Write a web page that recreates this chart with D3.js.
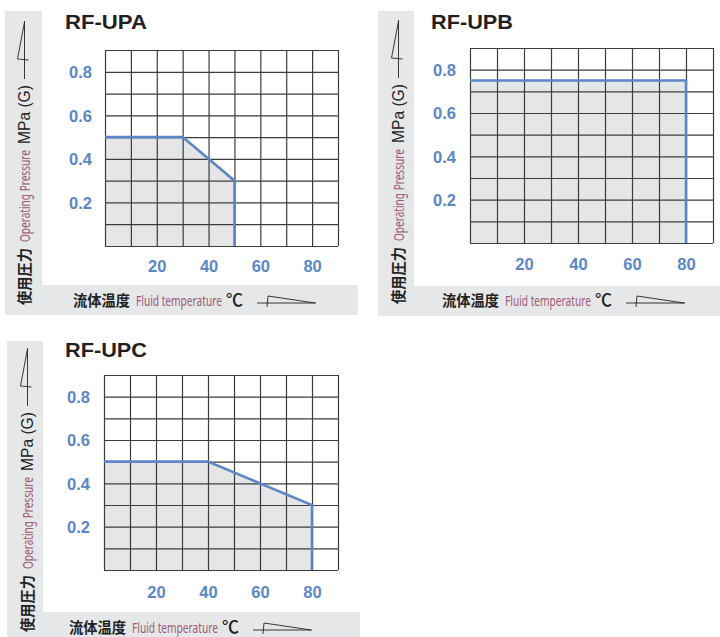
<!DOCTYPE html>
<html>
<head>
<meta charset="utf-8">
<script src="https://cdn.jsdelivr.net/npm/d3@7"></script>
<style>
  body { margin: 0; background: #fff; }
  svg { display: block; }
</style>
</head>
<body>
<svg id="chart" width="720" height="637"></svg>
<script>
// data
const titles = ['RF-UPA', 'RF-UPB', 'RF-UPC']
const upaTemp = [0, 30, 50, 50]
const upaPress = [0.5, 0.5, 0.3, 0]
const upbTemp = [0, 80, 80]
const upbPress = [0.75, 0.75, 0]
const upcTemp = [0, 40, 80, 80]
const upcPress = [0.5, 0.5, 0.3, 0]
const gridTemps = [0, 10, 20, 30, 40, 50, 60, 70, 80, 90]
const gridPress = [0, 0.1, 0.2, 0.3, 0.4, 0.5, 0.6, 0.7, 0.8, 0.9]
const xTicks = [20, 40, 60, 80]
const yTicks = [0.2, 0.4, 0.6, 0.8]
const yLabelJa = '使用圧力'
const yLabelEn = 'Operating Pressure'
const yUnit = 'MPa (G)'
const xLabelJa = '流体温度'
const xLabelEn = 'Fluid temperature'
const xUnit = '℃'

const series = [
  { temp: upaTemp, press: upaPress },
  { temp: upbTemp, press: upbPress },
  { temp: upcTemp, press: upcPress }
]

// layout of the three panels
const panels = [
  { strip: [5, 42, 11, 315, 358, 285], grid: [105, 338, 50, 246], title: [65, 29],
    yLab: [24, 305], xLab: [73, 306], xTickY: 266, yTickX: 92 },
  { strip: [378, 414, 11, 316, 720, 286], grid: [470, 713, 48, 243], title: [431, 29],
    yLab: [398, 304], xLab: [442, 306], xTickY: 264, yTickX: 456 },
  { strip: [7, 43, 341, 637, 360, 612], grid: [104, 338, 375, 570], title: [65, 357],
    yLab: [27, 632], xLab: [69, 633], xTickY: 592, yTickX: 90 }
]

const blue = '#5b87c6'
const mauve = '#9d5a76'
const stripGrey = '#e6e7e8'

const svg = d3.select('#chart')

// little wedge symbol next to the axis labels
function wedge(g, x0, len, strokeAt) {
  const p = d3.path()
  p.moveTo(x0, 0); p.lineTo(x0 + len, 0)
  p.moveTo(x0 + strokeAt - 1, 4); p.lineTo(x0 + strokeAt, -7)
  p.lineTo(x0 + len - 1, 0)
  g.append('path').attr('d', p.toString())
    .attr('fill', 'none').attr('stroke', '#222').attr('stroke-width', 0.9)
}

// text squeezed to a given length with a scale, so its box is the real one
function fitText(g, x, str, len, family, size, weight, color) {
  const holder = g.append('g')
  const t = holder.append('text').text(str)
    .style('font-family', family).style('font-size', size + 'px')
    .style('font-weight', weight).attr('fill', color)
  const w = t.node().getComputedTextLength()
  holder.attr('transform', 'translate(' + x + ',0) scale(' + (len / w) + ',1)')
}

function axisLabel(g, ja, en, unit, unitLen, offs) {
  fitText(g, 0, ja, 57, '"Noto Sans CJK JP"', 15, 700, '#222')
  fitText(g, 63, en, offs[0], '"Noto Sans"', 15, 400, mauve)
  if (unit === xUnit) {
    fitText(g, 63 + offs[0] + offs[1], unit, unitLen, '"Noto Sans CJK JP"', 17, 500, '#222')
  } else {
    fitText(g, 63 + offs[0] + offs[1], unit, unitLen, '"Liberation Sans"', 16, 400, '#222')
  }
}

panels.forEach(function(pn, i) {
  const [sx0, sx1, sy0, sy1, bx1, by0] = pn.strip
  const [left, right, top, bottom] = pn.grid
  const g = svg.append('g')

  // grey label strips
  g.append('rect').attr('x', sx0).attr('y', sy0).attr('width', sx1 - sx0).attr('height', sy1 - sy0)
    .attr('fill', stripGrey)
  g.append('rect').attr('x', sx0).attr('y', by0).attr('width', bx1 - sx0).attr('height', sy1 - by0)
    .attr('fill', stripGrey)

  const x = d3.scaleLinear().domain([0, 90]).range([left, right])
  const y = d3.scaleLinear().domain([0, 0.9]).range([bottom, top])

  const pts = series[i].temp.map(function(t, j) { return [t, series[i].press[j]] })

  // operating area
  g.append('path').datum(pts)
    .attr('d', d3.area().x(d => x(d[0])).y0(y(0)).y1(d => y(d[1])))
    .attr('fill', '#e5e6e8')

  // grid
  g.append('g').attr('transform', 'translate(0,' + bottom + ')')
    .call(d3.axisBottom(x).tickValues(gridTemps).tickSize(-(bottom - top)).tickFormat(''))
    .call(a => a.select('.domain').remove())
    .selectAll('line').attr('stroke', '#3c3c3c').attr('stroke-width', 1.2)
  g.append('g').attr('transform', 'translate(' + left + ',0)')
    .call(d3.axisLeft(y).tickValues(gridPress).tickSize(-(right - left)).tickFormat(''))
    .call(a => a.select('.domain').remove())
    .selectAll('line').attr('stroke', '#3c3c3c').attr('stroke-width', 1.2)

  // limit line
  g.append('path').datum(pts)
    .attr('d', d3.line().x(d => x(d[0])).y(d => y(d[1])))
    .attr('fill', 'none').attr('stroke', blue).attr('stroke-width', 2.6)

  // tick labels
  const xa = g.append('g').attr('transform', 'translate(0,' + pn.xTickY + ')')
    .call(d3.axisBottom(x).tickValues(xTicks).tickSize(0))
  xa.select('.domain').remove()
  xa.selectAll('text').attr('y', 0).attr('dy', '0.36em')

  const ya = g.append('g').attr('transform', 'translate(' + pn.yTickX + ',0)')
    .call(d3.axisLeft(y).tickValues(yTicks).tickSize(0).tickPadding(0).tickFormat(d3.format('.1f')))
  ya.select('.domain').remove()
  ya.selectAll('text').attr('dy', '0.36em')

  g.selectAll('.tick text')
    .attr('fill', blue)
    .style('font-family', '"Liberation Sans", Arial, sans-serif')
    .style('font-weight', 700).style('font-size', '16.5px')

  // title
  const tg = g.append('g').attr('transform', 'translate(0,' + pn.title[1] + ')')
  fitText(tg, pn.title[0], titles[i], 82, '"Liberation Sans", Arial, sans-serif', 21, 700, '#231f20')

  // y label (rotated)
  const yl = g.append('g')
    .attr('transform', 'translate(' + pn.yLab[0] + ',' + pn.yLab[1] + ') rotate(-90)')
  const ylt = yl.append('g').attr('transform', 'translate(0,5.5)')
  axisLabel(ylt, yLabelJa, yLabelEn, yUnit, 59, [92, 6])
  wedge(yl.append('g').attr('transform', 'translate(0,0.5)'), 226, 58, 20)

  // x label
  const xl = g.append('g').attr('transform', 'translate(' + pn.xLab[0] + ',' + pn.xLab[1] + ')')
  axisLabel(xl, xLabelJa, xLabelEn, xUnit, 17, [86, 4])
  wedge(xl.append('g').attr('transform', 'translate(0,-3)'), 184, 59, 11)
})
</script>
</body>
</html>
